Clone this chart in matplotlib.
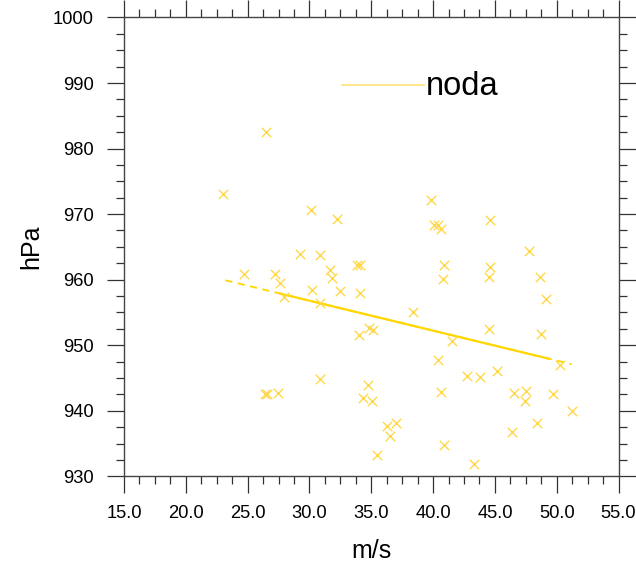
import matplotlib
matplotlib.use("Agg")
import matplotlib.pyplot as plt
from matplotlib.ticker import MultipleLocator, FormatStrFormatter

plt.rcParams["font.family"] = ["Liberation Sans", "DejaVu Sans"]

# wind speed (m/s) and central pressure (hPa)
wind = [26.46, 23.03, 30.14, 32.21, 29.27, 30.87, 33.83, 34.11, 24.71, 27.19,
        31.64, 31.81, 27.59, 30.19, 32.49, 34.08, 27.95, 30.89, 39.81, 40.11,
        40.43, 40.64, 44.64, 47.72, 40.88, 44.59, 44.53, 40.83, 48.61, 49.15,
        38.37, 44.56, 48.76, 41.51, 40.36, 50.26, 42.76, 43.79, 45.17, 33.99,
        34.81, 35.13, 26.41, 26.54, 27.49, 30.89, 34.70, 34.32, 35.02, 36.30,
        36.97, 36.54, 35.45, 40.64, 46.56, 47.48, 47.42, 49.69, 51.26, 48.42,
        46.37, 40.92, 43.29]
pres = [982.6, 973.0, 970.6, 969.2, 963.9, 963.8, 962.2, 962.2, 960.8, 960.8,
        961.4, 960.2, 959.5, 958.4, 958.3, 957.9, 957.3, 956.5, 972.1, 968.4,
        968.4, 967.7, 969.1, 964.4, 962.3, 961.9, 960.4, 960.1, 960.4, 957.1,
        955.1, 952.5, 951.7, 950.7, 947.8, 947.0, 945.3, 945.1, 946.1, 951.6,
        952.7, 952.3, 942.6, 942.6, 942.7, 944.8, 943.9, 941.9, 941.5, 937.7,
        938.1, 936.1, 933.3, 942.9, 942.7, 943.0, 941.5, 942.5, 940.0, 938.1,
        936.8, 934.8, 931.9]

# regression line end points
fit_x = [23.2, 51.2]
fit_y = [959.9, 947.1]
# extent of the solid part of the fit line
solid_x = [27.6, 49.3]

series_name = "noda"
x_label = "m/s"
y_label = "hPa"

fig = plt.figure(figsize=(6.36, 5.63), dpi=100)
ax = fig.add_axes([0.1950, 0.1540, 0.7775, 0.8150])

ax.scatter(wind, pres, marker="x", s=46, color="#FFD84A", linewidths=1.0, zorder=3)

slope = (fit_y[1] - fit_y[0]) / (fit_x[1] - fit_x[0])
def fit_at(x):
    return fit_y[0] + slope * (x - fit_x[0])

ax.plot(fit_x, fit_y, color="#FFD700", lw=1.3, ls=(0, (4, 3)), zorder=2)
ax.plot(solid_x, [fit_at(v) for v in solid_x], color="#FFD700", lw=1.6, zorder=2)

ax.set_xlim(15, 55)
ax.set_ylim(930, 1000)
ax.xaxis.set_major_locator(MultipleLocator(5))
ax.xaxis.set_minor_locator(MultipleLocator(1.25))
ax.yaxis.set_major_locator(MultipleLocator(10))
ax.yaxis.set_minor_locator(MultipleLocator(2.5))
ax.xaxis.set_major_formatter(FormatStrFormatter("%.1f"))
ax.yaxis.set_major_formatter(FormatStrFormatter("%d"))

ax.tick_params(which="both", direction="out", top=True, right=True,
               labeltop=False, labelright=False, color="#333333", width=0.9,
               labelsize=13.2)
ax.tick_params(which="major", length=12)
ax.tick_params(which="minor", length=6)
ax.tick_params(axis="x", which="major", pad=9)
ax.tick_params(axis="y", which="major", pad=10)
for sp in ax.spines.values():
    sp.set_color("#444444")
    sp.set_linewidth(1.0)

ax.set_xlabel(x_label, fontsize=18, labelpad=12)
ax.set_ylabel(y_label, fontsize=18, labelpad=7)

# legend entry
ax.plot([32.6, 39.3], [989.7, 989.7], color="#FFE680", lw=1.3)
ax.text(39.45, 989.5, series_name, fontsize=23.5, va="center", ha="left")

fig.savefig("out.png", dpi=100)
